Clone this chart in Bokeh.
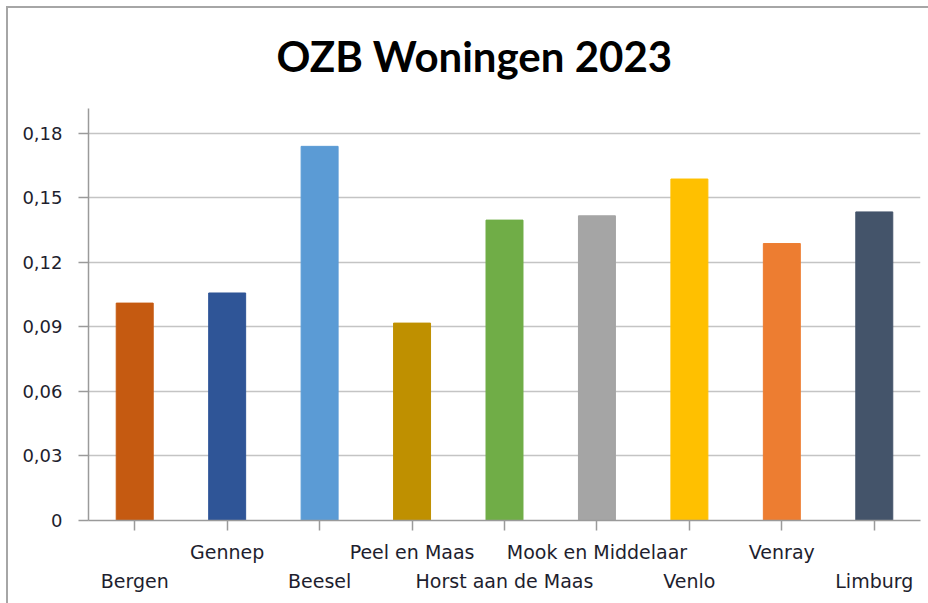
from bokeh.plotting import figure
from bokeh.models import CategoricalAxis, FixedTicker, ColumnDataSource, CustomJSTickFormatter
from bokeh.embed import file_html
from bokeh.resources import INLINE

categories = ["Bergen", "Gennep", "Beesel", "Peel en Maas", "Horst aan de Maas",
              "Mook en Middelaar", "Venlo", "Venray", "Limburg"]
values = [0.1011, 0.1058, 0.1740, 0.0918, 0.1397, 0.1417, 0.1588, 0.1288, 0.1435]
colors = ["#C55A11", "#2F5597", "#5B9BD5", "#BF9000", "#70AD47",
          "#A5A5A5", "#FFC000", "#ED7D31", "#44546A"]
ytick_values = [0, 0.03, 0.06, 0.09, 0.12, 0.15, 0.18]
ytick_labels = ["0", "0,03", "0,06", "0,09", "0,12", "0,15", "0,18"]
title_text = "OZB Woningen 2023"

src = ColumnDataSource(dict(cat=categories, val=values, col=colors))

W, H = 928, 603
FL, FR, FT, FB = 88, 8, 107, 83   # frame borders in canvas px

p = figure(x_range=categories, y_range=(0, 0.1916), width=W, height=H,
           output_backend="svg", toolbar_location=None,
           min_border_left=FL, min_border_right=FR, min_border_top=FT, min_border_bottom=FB,
           x_axis_location=None)
p.vbar(x="cat", top="val", width=0.4, fill_color="col", line_color="col", source=src)

# transparent border area so a CSS background can draw the chart's frame lines
p.border_fill_alpha = 0
p.background_fill_color = "white"
p.styles = {
    "background": ("linear-gradient(#a6a6a6, #a6a6a6) 6px 6px / 922px 2px no-repeat, "
                   "linear-gradient(#a6a6a6, #a6a6a6) 6px 6px / 2px 597px no-repeat, white")
}

p.title.text = title_text
p.title.text_font = "Lato"
p.title.text_font_size = "42px"
p.title.text_font_style = "bold"
p.title.text_color = "#000000"
p.title.align = "left"
p.title.offset = 188
p.title.standoff = 56

p.outline_line_color = None
p.xgrid.grid_line_color = None
p.ygrid.grid_line_color = "#c4c4c4"
p.ygrid.grid_line_width = 1.5
p.ygrid.ticker = FixedTicker(ticks=ytick_values)

ya = p.yaxis[0]
ya.ticker = FixedTicker(ticks=ytick_values)
ya.major_label_overrides = {v: l for v, l in zip(ytick_values, ytick_labels)}
ya.axis_line_color = "#9a9a9a"
ya.axis_line_width = 1.5
ya.major_tick_line_color = "#9a9a9a"
ya.major_tick_line_width = 1.5
ya.major_tick_out = 10
ya.major_tick_in = 0
ya.minor_tick_line_color = None
ya.major_label_standoff = 16
ya.major_label_text_font = "DejaVu Sans"
ya.major_label_text_font_size = "18px"
ya.major_label_text_color = "#1e1e2e"

row1 = [c if i % 2 == 1 else " " for i, c in enumerate(categories)]
row2 = [c if i % 2 == 0 else " " for i, c in enumerate(categories)]
code = "const i = cats.indexOf(tick); return i >= 0 ? labs[i] : ' ';"

xa1 = CategoricalAxis(formatter=CustomJSTickFormatter(args=dict(cats=categories, labs=row1), code=code))
xa1.axis_line_color = "#9a9a9a"
xa1.axis_line_width = 1.5
xa1.major_tick_line_color = "#9a9a9a"
xa1.major_tick_line_width = 1.5
xa1.major_tick_out = 10
xa1.major_tick_in = 0
xa1.major_label_standoff = 10
xa1.major_label_text_font = "DejaVu Sans"
xa1.major_label_text_font_size = "19px"
xa1.major_label_text_color = "#1e1e2e"
p.add_layout(xa1, "below")

xa2 = CategoricalAxis(formatter=CustomJSTickFormatter(args=dict(cats=categories, labs=row2), code=code))
xa2.axis_line_color = None
xa2.major_tick_line_color = None
xa2.major_tick_out = 0
xa2.major_tick_in = 0
xa2.major_label_standoff = 4
xa2.major_label_text_font = "DejaVu Sans"
xa2.major_label_text_font_size = "19px"
xa2.major_label_text_color = "#1e1e2e"
p.add_layout(xa2, "below")

open("out.html", "w").write(file_html(p, INLINE))
